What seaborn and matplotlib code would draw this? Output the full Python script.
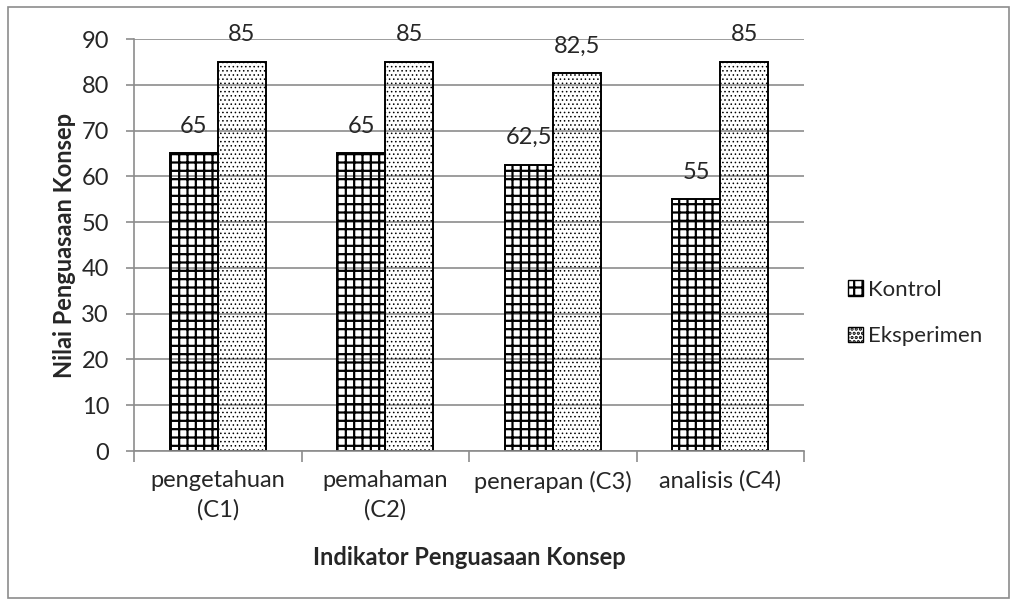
import matplotlib
matplotlib.use("Agg")
import matplotlib.pyplot as plt
import seaborn as sns
import pandas as pd
from matplotlib.patches import Rectangle, Patch

# data
categories = ["pengetahuan\n(C1)", "pemahaman\n(C2)", "penerapan (C3)", "analisis (C4)"]
kontrol = [65, 65, 62.5, 55]
eksperimen = [85, 85, 82.5, 85]
groups = ["Kontrol", "Eksperimen"]
hatches = {"Kontrol": "++", "Eksperimen": "...."}
hatch_lw = {"Kontrol": 1.6, "Eksperimen": 0.6}

df = pd.DataFrame({
    "indikator": categories * 2,
    "nilai": kontrol + eksperimen,
    "kelompok": ["Kontrol"] * 4 + ["Eksperimen"] * 4,
})

sns.set_style("white")
plt.rcParams["font.family"] = ["Lato", "DejaVu Sans"]
plt.rcParams["hatch.linewidth"] = 1.6

fig = plt.figure(figsize=(10.13, 6.02), dpi=100)
ax = fig.add_axes([0.1323, 0.2508, 0.6614, 0.6844])

sns.barplot(data=df, x="indikator", y="nilai", hue="kelompok", hue_order=groups,
            palette={"Kontrol": "white", "Eksperimen": "white"},
            width=0.575, edgecolor="black", linewidth=1.4, legend=False, ax=ax)

for container, g in zip(ax.containers, groups):
    for bar in container:
        bar.set_facecolor("none")
        bar.set_hatch(hatches[g])
        try:
            bar.set_hatch_linewidth(hatch_lw[g])
        except AttributeError:
            pass
    labels = [f"{v:g}".replace(".", ",") for v in container.datavalues]
    ax.bar_label(container, labels=labels, padding=12, fontsize=17)

ax.set_ylim(0, 90)
ax.set_xlim(-0.5, 3.5)
ax.set_yticks(range(0, 91, 10))
ax.yaxis.grid(True, color="#8c8c8c", linewidth=1.2)
ax.set_axisbelow(True)
ax.tick_params(axis="y", labelsize=17, length=6, color="#8c8c8c", width=1.2, pad=12)
ax.tick_params(axis="x", which="major", labelsize=17, length=0, pad=14)
ax.set_xticks([-0.5, 0.5, 1.5, 2.5, 3.5], minor=True)
ax.tick_params(axis="x", which="minor", length=8, color="#8c8c8c", width=1.2, direction="out")
ax.xaxis.set_ticks_position("bottom")
ax.yaxis.set_ticks_position("left")
for t in ax.get_xticklabels():
    t.set_linespacing(1.45)

for s in ["top", "right"]:
    ax.spines[s].set_visible(False)
for s in ["left", "bottom"]:
    ax.spines[s].set_color("#8c8c8c")
    ax.spines[s].set_linewidth(1.2)

ax.set_xlabel("Indikator Penguasaan Konsep", fontsize=17, fontweight="bold", labelpad=18)
ax.set_ylabel("Nilai Penguasaan Konsep", fontsize=17, fontweight="bold", labelpad=4)

handles = [Patch(facecolor="white", edgecolor="black", hatch=hatches[g], label=g) for g in groups]
fig.legend(handles=handles, loc="center left", bbox_to_anchor=(0.817, 0.48),
           frameon=False, fontsize=16, handlelength=0.7, handleheight=0.7,
           handletextpad=0.2, labelspacing=1.2)

# outer chart border
fig.patches.append(Rectangle((0.008, 0.007), 0.988, 0.981, transform=fig.transFigure,
                             fill=False, edgecolor="#8c8c8c", linewidth=1.2))

fig.savefig("out.png", dpi=100)
